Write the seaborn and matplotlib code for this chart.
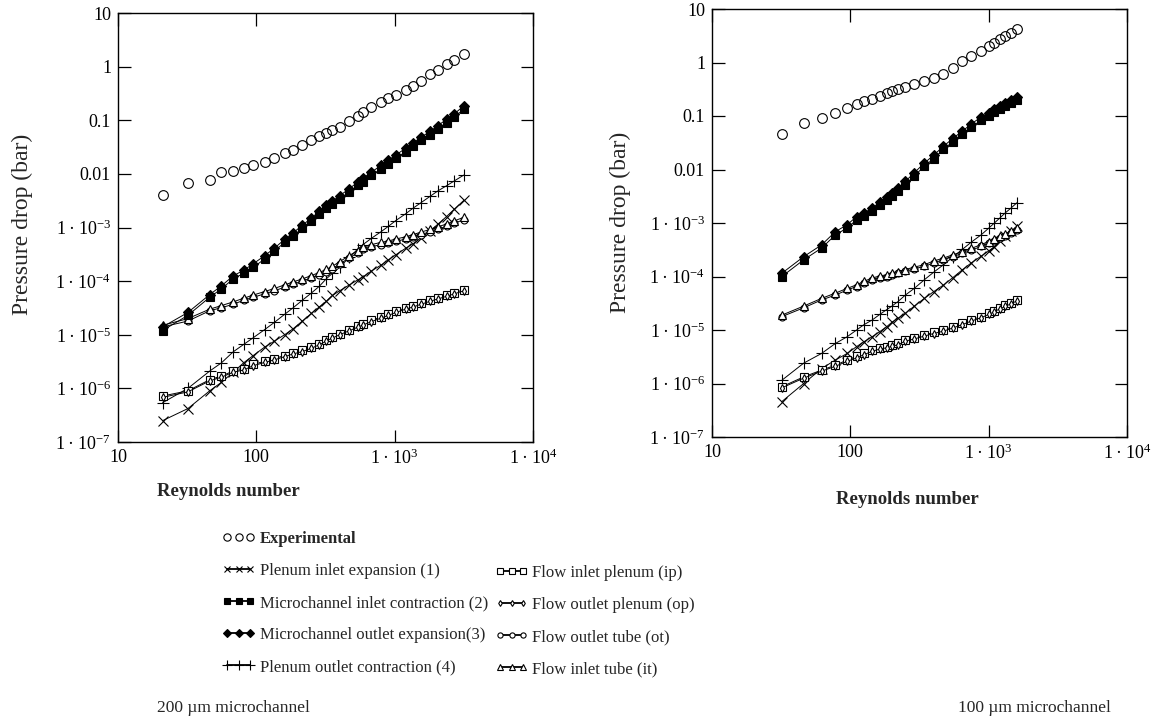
import matplotlib
matplotlib.use('Agg')
import matplotlib.pyplot as plt
import seaborn as sns
from matplotlib.lines import Line2D
from matplotlib.ticker import FixedLocator, FixedFormatter, NullLocator

# 200 um microchannel (left panel)
re_200 = [21, 32, 46, 56, 68, 81, 95, 115, 135, 160, 185, 215, 250, 285, 320, 355,
          400, 470, 540, 590, 680, 800, 900, 1020, 1200, 1360, 1550, 1800, 2050, 2370, 2700, 3160]
exp_200 = [0.0040, 0.0069, 0.0077, 0.011, 0.0114, 0.0128, 0.0148, 0.017, 0.020, 0.024, 0.028,
           0.035, 0.042, 0.050, 0.058, 0.067, 0.075, 0.095, 0.12, 0.14, 0.18, 0.22, 0.26, 0.30,
           0.36, 0.43, 0.53, 0.72, 0.88, 1.1, 1.35, 1.7]
pie_200 = [2.5e-7, 4.2e-7, 9.0e-7, 1.3e-6, 2.0e-6, 3.0e-6, 4.1e-6, 5.9e-6, 7.6e-6, 1.0e-5, 1.3e-5,
           1.8e-5, 2.5e-5, 3.3e-5, 4.2e-5, 5.4e-5, 6.6e-5, 8.5e-5, 1.05e-4, 1.2e-4, 1.55e-4, 2.0e-4,
           2.5e-4, 3.1e-4, 4.1e-4, 5.0e-4, 6.4e-4, 8.6e-4, 1.15e-3, 1.6e-3, 2.2e-3, 3.2e-3]
mic_200 = [1.2e-5, 2.3e-5, 5.0e-5, 7.2e-5, 1.1e-4, 1.4e-4, 1.8e-4, 2.6e-4, 3.6e-4, 5.3e-4, 7.0e-4,
           9.6e-4, 1.3e-3, 1.8e-3, 2.3e-3, 2.7e-3, 3.4e-3, 4.6e-3, 6.1e-3, 7.2e-3, 9.4e-3, 1.25e-2,
           1.55e-2, 1.95e-2, 2.6e-2, 3.3e-2, 4.2e-2, 5.4e-2, 6.9e-2, 9.0e-2, 0.115, 0.16]
moe_200 = [1.4e-5, 2.6e-5, 5.6e-5, 8.2e-5, 1.25e-4, 1.6e-4, 2.1e-4, 3.0e-4, 4.1e-4, 6.0e-4, 8.0e-4,
           1.1e-3, 1.5e-3, 2.0e-3, 2.6e-3, 3.1e-3, 3.9e-3, 5.3e-3, 7.0e-3, 8.3e-3, 1.08e-2, 1.45e-2,
           1.8e-2, 2.25e-2, 3.0e-2, 3.8e-2, 4.8e-2, 6.2e-2, 7.9e-2, 0.104, 0.132, 0.185]
poc_200 = [5.4e-7, 1.0e-6, 2.1e-6, 3.0e-6, 4.8e-6, 6.6e-6, 8.8e-6, 1.25e-5, 1.7e-5, 2.4e-5, 3.2e-5,
           4.4e-5, 6.0e-5, 8.0e-5, 1.1e-4, 1.4e-4, 1.8e-4, 2.8e-4, 3.9e-4, 4.8e-4, 6.3e-4, 8.4e-4,
           1.05e-3, 1.35e-3, 1.8e-3, 2.3e-3, 2.9e-3, 3.8e-3, 4.8e-3, 6.0e-3, 7.4e-3, 9.5e-3]
fip_200 = [7.2e-7, 9.0e-7, 1.45e-6, 1.7e-6, 2.1e-6, 2.3e-6, 2.8e-6, 3.2e-6, 3.6e-6, 4.1e-6, 4.6e-6,
           5.1e-6, 5.9e-6, 6.8e-6, 8.0e-6, 9.2e-6, 1.05e-5, 1.25e-5, 1.45e-5, 1.6e-5, 1.85e-5, 2.15e-5,
           2.4e-5, 2.75e-5, 3.15e-5, 3.5e-5, 3.9e-5, 4.4e-5, 4.9e-5, 5.5e-5, 6.1e-5, 6.9e-5]
fop_200 = [6.8e-7, 8.6e-7, 1.38e-6, 1.62e-6, 2.0e-6, 2.2e-6, 2.65e-6, 3.05e-6, 3.4e-6, 3.9e-6, 4.4e-6,
           4.85e-6, 5.6e-6, 6.5e-6, 7.6e-6, 8.7e-6, 1.0e-5, 1.19e-5, 1.38e-5, 1.52e-5, 1.76e-5, 2.05e-5,
           2.3e-5, 2.6e-5, 3.0e-5, 3.3e-5, 3.7e-5, 4.2e-5, 4.65e-5, 5.2e-5, 5.8e-5, 6.6e-5]
fot_200 = [1.4e-5, 1.8e-5, 2.8e-5, 3.2e-5, 3.7e-5, 4.4e-5, 5.0e-5, 5.8e-5, 6.6e-5, 7.7e-5, 8.8e-5,
           1.0e-4, 1.15e-4, 1.3e-4, 1.5e-4, 1.7e-4, 2.1e-4, 2.7e-4, 3.4e-4, 3.9e-4, 4.4e-4, 4.8e-4,
           5.1e-4, 5.5e-4, 6.1e-4, 6.7e-4, 7.4e-4, 8.3e-4, 9.3e-4, 1.05e-3, 1.2e-3, 1.4e-3]
fit_200 = [1.5e-5, 2.0e-5, 3.0e-5, 3.5e-5, 4.1e-5, 4.8e-5, 5.5e-5, 6.4e-5, 7.3e-5, 8.5e-5, 9.7e-5,
           1.1e-4, 1.27e-4, 1.45e-4, 1.65e-4, 1.9e-4, 2.3e-4, 3.0e-4, 3.7e-4, 4.3e-4, 4.8e-4, 5.3e-4,
           5.6e-4, 6.1e-4, 6.7e-4, 7.4e-4, 8.2e-4, 9.2e-4, 1.03e-3, 1.16e-3, 1.33e-3, 1.55e-3]

# 100 um microchannel (right panel)
re_100 = [32, 46, 62, 78, 95, 111, 125, 144, 163, 183, 200, 221, 250, 290, 343, 400, 470, 550,
          644, 750, 882, 1000, 1100, 1208, 1320, 1450, 1603]
exp_100 = [0.047, 0.073, 0.093, 0.115, 0.144, 0.166, 0.19, 0.21, 0.24, 0.27, 0.29, 0.32, 0.35,
           0.39, 0.45, 0.52, 0.60, 0.80, 1.05, 1.3, 1.65, 2.0, 2.3, 2.7, 3.1, 3.6, 4.2]
pie_100 = [4.6e-7, 1.0e-6, 1.9e-6, 2.75e-6, 3.65e-6, 4.9e-6, 6.0e-6, 7.5e-6, 9.3e-6, 1.15e-5, 1.4e-5,
           1.65e-5, 2.05e-5, 2.8e-5, 3.9e-5, 5.2e-5, 6.9e-5, 9.5e-5, 1.33e-4, 1.8e-4, 2.4e-4, 3.0e-4,
           3.6e-4, 4.6e-4, 5.6e-4, 7.0e-4, 8.7e-4]
mic_100 = [1.0e-4, 2.05e-4, 3.4e-4, 6.0e-4, 8.1e-4, 1.15e-3, 1.33e-3, 1.66e-3, 2.15e-3, 2.7e-3, 3.2e-3,
           3.9e-3, 5.2e-3, 7.6e-3, 1.15e-2, 1.6e-2, 2.37e-2, 3.3e-2, 4.56e-2, 6.2e-2, 8.4e-2, 0.100,
           0.118, 0.135, 0.155, 0.175, 0.20]
moe_100 = [1.15e-4, 2.35e-4, 3.9e-4, 6.9e-4, 9.3e-4, 1.32e-3, 1.53e-3, 1.9e-3, 2.45e-3, 3.1e-3, 3.7e-3,
           4.5e-3, 6.0e-3, 8.7e-3, 1.32e-2, 1.85e-2, 2.7e-2, 3.8e-2, 5.2e-2, 7.1e-2, 9.6e-2, 0.115,
           0.135, 0.155, 0.178, 0.2, 0.23]
poc_100 = [1.15e-6, 2.4e-6, 3.65e-6, 5.6e-6, 7.5e-6, 1.0e-5, 1.25e-5, 1.54e-5, 1.95e-5, 2.4e-5, 2.8e-5,
           3.4e-5, 4.5e-5, 6.0e-5, 8.7e-5, 1.2e-4, 1.65e-4, 2.3e-4, 3.2e-4, 4.4e-4, 6.0e-4, 8.0e-4,
           1.0e-3, 1.25e-3, 1.55e-3, 1.9e-3, 2.4e-3]
fip_100 = [8.7e-7, 1.33e-6, 1.78e-6, 2.2e-6, 2.75e-6, 3.2e-6, 3.65e-6, 4.2e-6, 4.6e-6, 4.9e-6, 5.2e-6,
           5.6e-6, 6.5e-6, 7.2e-6, 8.1e-6, 9.0e-6, 1.0e-5, 1.15e-5, 1.33e-5, 1.55e-5, 1.78e-5, 2.05e-5,
           2.3e-5, 2.6e-5, 2.9e-5, 3.25e-5, 3.65e-5]
fop_100 = [8.3e-7, 1.26e-6, 1.7e-6, 2.1e-6, 2.6e-6, 3.0e-6, 3.45e-6, 4.0e-6, 4.4e-6, 4.65e-6, 4.95e-6,
           5.3e-6, 6.2e-6, 6.8e-6, 7.7e-6, 8.6e-6, 9.5e-6, 1.09e-5, 1.26e-5, 1.47e-5, 1.7e-5, 1.95e-5,
           2.2e-5, 2.5e-5, 2.75e-5, 3.1e-5, 3.5e-5]
fot_100 = [1.78e-5, 2.6e-5, 3.65e-5, 4.5e-5, 5.6e-5, 6.5e-5, 7.5e-5, 8.7e-5, 9.4e-5, 1.0e-4, 1.08e-4,
           1.15e-4, 1.25e-4, 1.4e-4, 1.54e-4, 1.8e-4, 2.05e-4, 2.35e-4, 2.7e-4, 3.1e-4, 3.65e-4, 4.2e-4,
           4.6e-4, 5.2e-4, 5.8e-4, 6.6e-4, 7.5e-4]
fit_100 = [1.9e-5, 2.8e-5, 3.9e-5, 4.9e-5, 6.0e-5, 7.0e-5, 8.1e-5, 9.4e-5, 1.02e-4, 1.08e-4, 1.17e-4,
           1.24e-4, 1.35e-4, 1.5e-4, 1.66e-4, 1.95e-4, 2.2e-4, 2.55e-4, 2.9e-4, 3.35e-4, 3.95e-4, 4.5e-4,
           5.0e-4, 5.6e-4, 6.3e-4, 7.1e-4, 8.1e-4]

DOT = '1\u2009\u00b7\u200910'
x_ticks = [10, 100, 1e3, 1e4]
x_labels = ['10', '100', DOT + r'$^{\mathdefault{3}}$', DOT + r'$^{\mathdefault{4}}$']
y_ticks = [1e-7, 1e-6, 1e-5, 1e-4, 1e-3, 1e-2, 1e-1, 1, 10]
y_labels = [DOT + r'$^{\mathdefault{-7}}$', DOT + r'$^{\mathdefault{-6}}$', DOT + r'$^{\mathdefault{-5}}$',
            DOT + r'$^{\mathdefault{-4}}$', DOT + r'$^{\mathdefault{-3}}$', '0.01', '0.1', '1', '10']

labels = ['Experimental', 'Plenum inlet expansion (1)', 'Microchannel inlet contraction (2)',
          'Microchannel outlet expansion(3)', 'Plenum outlet contraction (4)',
          'Flow inlet plenum (ip)', 'Flow outlet plenum (op)', 'Flow outlet tube (ot)', 'Flow inlet tube (it)']

styles = {
    'Experimental': dict(marker='o', markersize=7, markerfacecolor='none', linestyle=''),
    'Plenum inlet expansion (1)': dict(marker='x', markersize=6.5, markerfacecolor='k'),
    'Microchannel inlet contraction (2)': dict(marker='s', markersize=5.5, markerfacecolor='k'),
    'Microchannel outlet expansion(3)': dict(marker='D', markersize=5, markerfacecolor='k'),
    'Plenum outlet contraction (4)': dict(marker='+', markersize=9, markerfacecolor='k'),
    'Flow inlet plenum (ip)': dict(marker='s', markersize=5.5, markerfacecolor='white'),
    'Flow outlet plenum (op)': dict(marker='d', markersize=4, markerfacecolor='white'),
    'Flow outlet tube (ot)': dict(marker='o', markersize=5, markerfacecolor='white'),
    'Flow inlet tube (it)': dict(marker='^', markersize=5.5, markerfacecolor='white'),
}

draw_order = [1, 4, 5, 6, 7, 8, 2, 3, 0]


def plot_panel(ax, re, series):
    for i in draw_order:
        st = dict(styles[labels[i]])
        ls = st.pop('linestyle', '-')
        sns.lineplot(x=re, y=series[i], ax=ax, color='k', linewidth=0.7, linestyle=ls,
                     markeredgecolor='k', markeredgewidth=0.8, legend=False, **st)

    ax.set_xscale('log')
    ax.set_yscale('log')
    ax.set_xlim(10, 1e4)
    ax.set_ylim(1e-7, 10)
    ax.xaxis.set_major_locator(FixedLocator(x_ticks))
    ax.xaxis.set_major_formatter(FixedFormatter(x_labels))
    ax.yaxis.set_major_locator(FixedLocator(y_ticks))
    ax.yaxis.set_major_formatter(FixedFormatter(y_labels))
    ax.xaxis.set_minor_locator(NullLocator())
    ax.yaxis.set_minor_locator(NullLocator())
    ax.tick_params(which='major', direction='in', length=9, width=0.9, top=True, right=True,
                   labelsize=13, pad=5, colors='k')
    for s in ax.spines.values():
        s.set_linewidth(1.0)
        s.set_color('k')
    ax.set_xlabel('')
    ax.set_ylabel('')


sns.set_style('ticks')
plt.rcParams['font.family'] = ['Liberation Serif', 'DejaVu Serif']
plt.rcParams['mathtext.fontset'] = 'stix'

W, H = 1156, 723
fig = plt.figure(figsize=(W / 100, H / 100), dpi=100)
ax1 = fig.add_axes([118 / W, 1 - 442 / H, 415 / W, 429 / H])
ax2 = fig.add_axes([712 / W, 1 - 437 / H, 415 / W, 428 / H])

plot_panel(ax1, re_200, [exp_200, pie_200, mic_200, moe_200, poc_200, fip_200, fop_200, fot_200, fit_200])
plot_panel(ax2, re_100, [exp_100, pie_100, mic_100, moe_100, poc_100, fip_100, fop_100, fot_100, fit_100])

fig.text(22 / W, 1 - 224 / H, 'Pressure drop (bar)', rotation=90, ha='center', va='center', fontsize=17)
fig.text(620 / W, 1 - 222 / H, 'Pressure drop (bar)', rotation=90, ha='center', va='center', fontsize=17)
fig.text(157 / W, 1 - 491 / H, 'Reynolds number', ha='left', va='center', fontsize=13.5, weight='bold')
fig.text(836 / W, 1 - 499 / H, 'Reynolds number', ha='left', va='center', fontsize=13.5, weight='bold')
fig.text(157 / W, 1 - 708 / H, '200 µm microchannel', ha='left', va='center', fontsize=12.5)
fig.text(958 / W, 1 - 708 / H, '100 µm microchannel', ha='left', va='center', fontsize=12.5)

# legend handles
handles = []
for lab in labels:
    st = dict(styles[lab])
    ls = st.pop('linestyle', '-')
    st['markersize'] = st['markersize'] * 0.75
    handles.append(Line2D([], [], color='k', linewidth=1.3, linestyle=ls, markeredgecolor='k',
                          markeredgewidth=0.8, **st))

leg_kw = dict(loc='upper left', frameon=False, borderpad=0, borderaxespad=0, handlelength=2.0,
              handletextpad=0.25, labelspacing=0.96, fontsize=12, numpoints=3)
leg1 = fig.legend(handles[:5], labels[:5], bbox_to_anchor=(222 / W, 1 - 531 / H), **leg_kw)
leg1.get_texts()[0].set_fontweight('bold')
leg2 = fig.legend(handles[5:], labels[5:], bbox_to_anchor=(495 / W, 1 - 565 / H), **leg_kw)

fig.savefig('out.png', dpi=100)
